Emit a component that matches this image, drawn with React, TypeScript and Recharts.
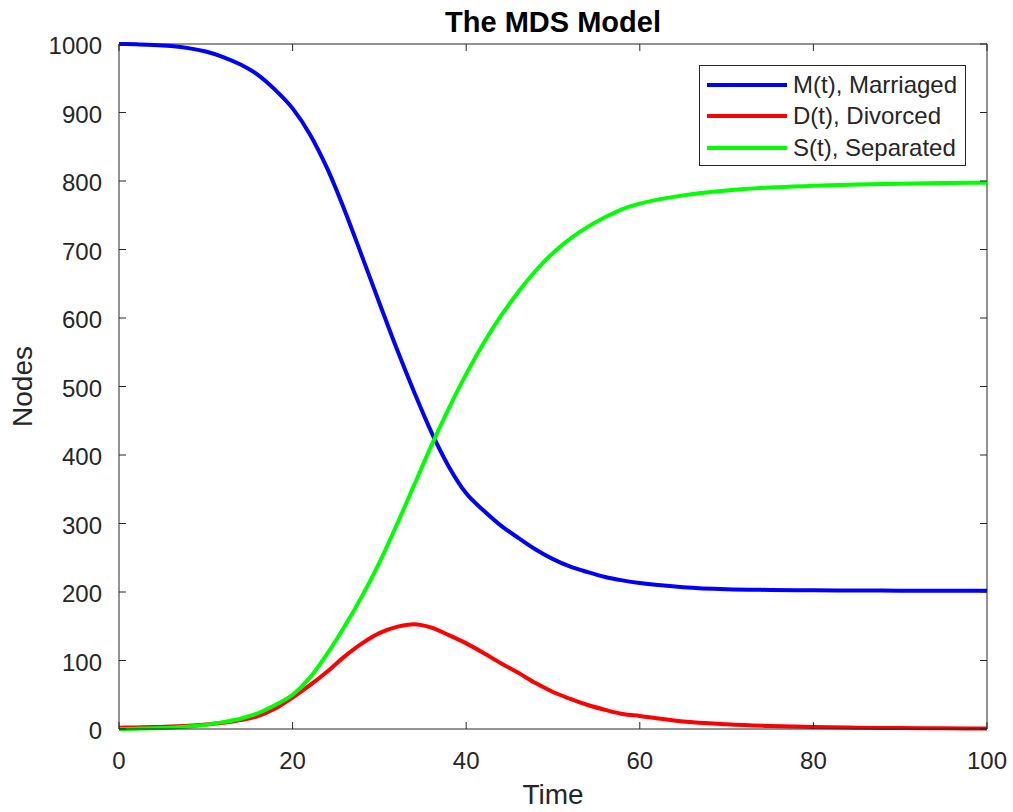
import { LineChart, Line, XAxis, YAxis, ReferenceLine, Legend } from "recharts";

// MDS model solution
const time = [
  0, 2, 4, 6, 8, 10, 12, 14, 16, 18, 20, 22, 24, 26, 28, 30, 32, 34, 36, 38, 40,
  42, 44, 46, 48, 50, 52, 54, 56, 58, 60, 65, 70, 75, 80, 85, 90, 95, 100,
];
const married = [
  1000, 999.5, 998.7, 997, 994, 989, 981, 970, 955, 933, 906, 868, 818, 757, 690,
  622, 555, 492, 433, 383, 344, 319, 297, 279, 262, 248, 237, 229, 222, 217, 213,
  207, 204, 203, 202.5, 202.2, 202, 202, 202,
];
const divorced = [
  2, 2.3, 2.8, 3.5, 4.6, 6.5, 9, 13, 19, 30, 46, 64, 84, 106, 125, 140, 149, 153,
  148, 137, 125, 111, 96, 82, 67, 54, 44, 35, 28, 22, 19, 11, 7, 4.5, 3, 2, 1.4,
  1, 0.7,
];
const separated = [
  0, 0.4, 1, 2, 3.5, 6, 10, 15, 23, 35, 50, 75, 110, 150, 194, 243, 298, 356, 414,
  468, 518, 563, 603, 638, 669, 695, 716, 733, 747, 759, 767, 779, 786, 790.5, 793,
  795, 796, 797, 797.5,
];
const seriesNames = ["M(t), Marriaged", "D(t), Divorced", "S(t), Separated"];
const xTicks = [0, 20, 40, 60, 80, 100];
const yTicks = [0, 100, 200, 300, 400, 500, 600, 700, 800, 900, 1000];

const data = time.map((t, i) => ({
  t,
  married: married[i],
  divorced: divorced[i],
  separated: separated[i],
}));

const W = 1013;
const H = 812;
const TOP = 44;
const BOTTOM = 729;
const LEFT = 119;
const RIGHT = 987;
const TICK_LEN = 7;
const INK = "#262626";
const FONT = '"Liberation Sans", Arial, Helvetica, sans-serif';

// MATLAB-style ticks: pointing inward, mirrored on the opposite side
const XTick = (props: any) => {
  const { x, y, payload } = props;
  return (
    <g>
      <line x1={x} x2={x} y1={BOTTOM} y2={BOTTOM - TICK_LEN} stroke={INK} />
      <line x1={x} x2={x} y1={TOP} y2={TOP + TICK_LEN} stroke={INK} />
      <text x={x} y={y + 40} textAnchor="middle" fill={INK} fontSize={24} fontFamily={FONT}>
        {payload.value}
      </text>
    </g>
  );
};

const YTick = (props: any) => {
  const { x, y, payload } = props;
  return (
    <g>
      <line x1={LEFT} x2={LEFT + TICK_LEN} y1={y} y2={y} stroke={INK} />
      <line x1={RIGHT} x2={RIGHT - TICK_LEN} y1={y} y2={y} stroke={INK} />
      <text x={x - 17} y={y + 10} textAnchor="end" fill={INK} fontSize={24} fontFamily={FONT}>
        {payload.value}
      </text>
    </g>
  );
};

const LegendBox = ({ payload }: any) => {
  const items = [...(payload || [])].sort(
    (a: any, b: any) => seriesNames.indexOf(a.value) - seriesNames.indexOf(b.value)
  );
  return (
    <div
      style={{
        boxSizing: "border-box",
        width: 267,
        height: 101,
        border: `1px solid ${INK}`,
        background: "#fff",
        paddingTop: 3,
        fontFamily: FONT,
      }}
    >
      {items.map((entry: any) => (
        <div key={entry.value} style={{ display: "flex", alignItems: "center", height: 31.5 }}>
          <span style={{ width: 80, height: 4, background: entry.color, marginLeft: 7 }} />
          <span style={{ marginLeft: 6, fontSize: 24, color: INK, lineHeight: "24px" }}>{entry.value}</span>
        </div>
      ))}
    </div>
  );
};

export default function App() {
  return (
    <div style={{ position: "absolute", left: 0, top: 0, width: W, height: H, background: "#fff" }}>
      <div
        style={{
          position: "absolute",
          left: LEFT,
          width: RIGHT - LEFT,
          top: 8,
          textAlign: "center",
          fontFamily: FONT,
          fontWeight: "bold",
          fontSize: 29,
          lineHeight: "29px",
          color: "#000",
          zIndex: 2,
        }}
      >
        The MDS Model
      </div>
      <LineChart width={W} height={H} data={data} margin={{ top: TOP, right: W - RIGHT, bottom: 0, left: 0 }}>
        <XAxis
          dataKey="t"
          type="number"
          domain={[0, 100]}
          ticks={xTicks}
          interval={0}
          height={H - BOTTOM}
          tickSize={0}
          tickMargin={0}
          tickLine={false}
          tick={<XTick />}
          axisLine={{ stroke: INK }}
          label={{ value: "Time", position: "insideBottom", offset: 8, fill: INK, fontSize: 28, fontFamily: FONT }}
        />
        <YAxis
          type="number"
          domain={[0, 1000]}
          ticks={yTicks}
          interval={0}
          width={LEFT}
          tickSize={0}
          tickMargin={0}
          tickLine={false}
          tick={<YTick />}
          axisLine={{ stroke: INK }}
          label={{
            value: "Nodes",
            angle: -90,
            position: "insideLeft",
            offset: 22,
            fill: INK,
            fontSize: 28,
            fontFamily: FONT,
            style: { textAnchor: "middle" },
          }}
        />
        <ReferenceLine y={1000} stroke={INK} />
        <ReferenceLine x={100} stroke={INK} />
        <Legend
          layout="vertical"
          align="center"
          verticalAlign="middle"
          itemSorter={null}
          content={<LegendBox />}
          wrapperStyle={{ left: 699, top: 65, width: 267, height: 101 }}
        />
        <Line type="monotone" dataKey="married" name={seriesNames[0]} stroke="#0000ff" strokeWidth={4} dot={false} activeDot={false} isAnimationActive={false} />
        <Line type="monotone" dataKey="divorced" name={seriesNames[1]} stroke="#ff0000" strokeWidth={4} dot={false} activeDot={false} isAnimationActive={false} />
        <Line type="monotone" dataKey="separated" name={seriesNames[2]} stroke="#00ff00" strokeWidth={4} dot={false} activeDot={false} isAnimationActive={false} />
      </LineChart>
    </div>
  );
}
